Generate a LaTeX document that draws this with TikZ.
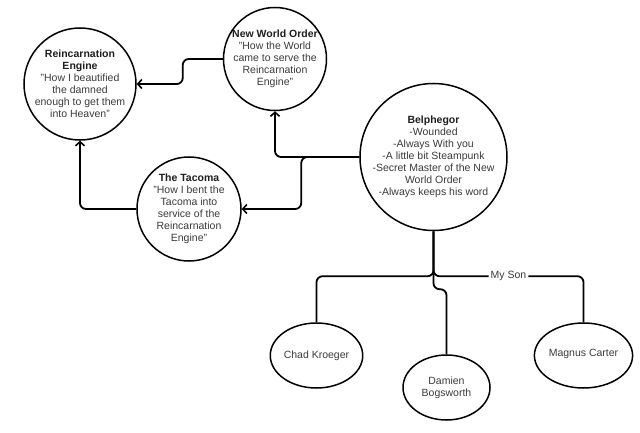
\documentclass[tikz,border=0pt]{standalone}
\usepackage{fontspec}
\setmainfont{Liberation Sans}
\usetikzlibrary{shapes.geometric,arrows.meta}
\definecolor{txt}{HTML}{3A3A3A}
\definecolor{ttl}{HTML}{1E1E1E}
\tikzset{
  bubble/.style={circle, draw=black, line width=1.5pt, inner sep=0pt},
  oval/.style={ellipse, draw=black, line width=1.5pt, minimum width=87pt, minimum height=65pt, inner sep=0pt,
    align=center, text=txt, font=\fontsize{10.5}{12}\selectfont},
  body/.style={align=center, text=txt, font=\fontsize{10.5}{12}\selectfont},
  link/.style={line width=1.8pt, rounded corners=6pt},
  arr/.style={link, -{Straight Barb[length=4pt,width=9pt,line width=1.6pt]}},
}
\newcommand{\ttl}[1]{{\bfseries\color{ttl}#1}}
\begin{document}
\begin{tikzpicture}[x=1pt,y=-1pt]
\useasboundingbox (0,0) rectangle (640,433);

\node[bubble, minimum size=112pt, label={[body]center:\ttl{Reincarnation}\\\ttl{Engine}\\"How I beautified\\the damned\\enough to get them\\into Heaven"}] (re) at (80,84) {};
\node[bubble, minimum size=103pt, label={[body]center:\ttl{New World Order}\\"How the World\\came to serve the\\Reincarnation\\Engine"}] (nwo) at (275,59) {};
\node[bubble, minimum size=104pt, label={[body]center:\ttl{The Tacoma}\\"How I bent the\\Tacoma into\\service of the\\Reincarnation\\Engine"}] (tac) at (189,209) {};
\node[bubble, minimum size=147pt, label={[body]center:\ttl{Belphegor}\\-Wounded\\-Always With you\\-A little bit Steampunk\\-Secret Master of the New\\World Order\\-Always keeps his word}] (bel) at (433.5,157) {};

\node[oval] (chad) at (316.5,355.5) {Chad Kroeger};
\node[oval] (dam) at (446.5,387.5) {Damien\\Bogsworth};
\node[oval] (mag) at (583.5,355.5) {\raisebox{5pt}{Magnus Carter}};

\draw[arr] (bel.west) -| (nwo.south);
\draw[arr] (bel.west) -- ++(-58,0) |- (tac.east);
\draw[arr] (nwo.west) -- ++(-40,0) |- (re.east);
\draw[arr] (tac.west) -| (re.south);

\draw[link] (bel.south) -- ++(0,45) -| (chad.north);
\draw[link] (bel.south) -- ++(0,58) -| (dam.north);
\draw[link] (bel.south) -- ++(0,45) -| node[pos=0.25, fill=white, inner sep=2pt, body] {My Son} (mag.north);
\end{tikzpicture}
\end{document}
